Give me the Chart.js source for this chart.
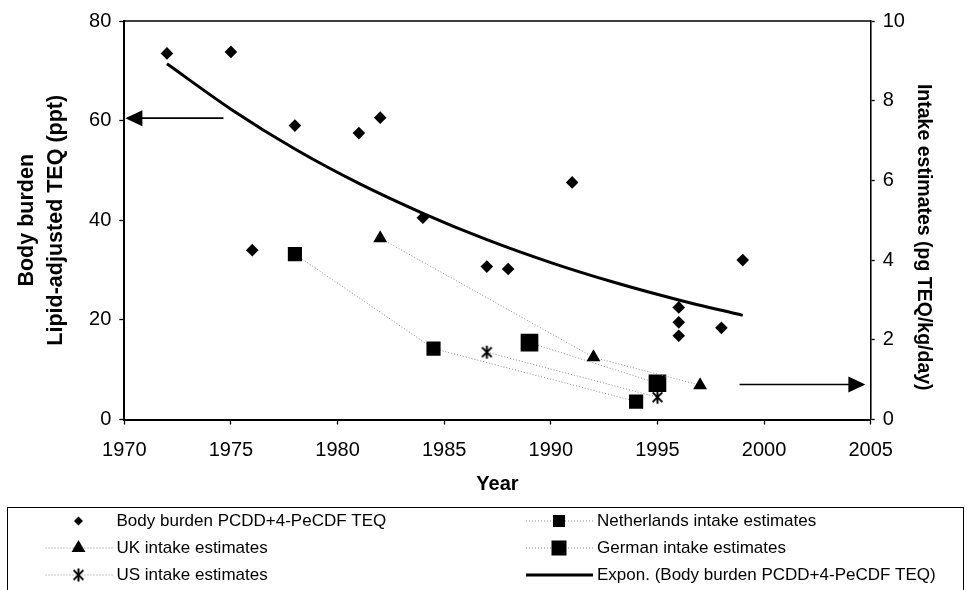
<!DOCTYPE html>
<html>
<head>
<meta charset="utf-8">
<script src="https://cdn.jsdelivr.net/npm/chart.js@4.4.1/dist/chart.umd.min.js"></script>
<style>
  html, body { margin: 0; padding: 0; background: #fff; }
</style>
</head>
<body>
<canvas id="chart" width="967" height="590"></canvas>
<script>
// body burden measurements (left axis, ppt)
const bodyYears = [1972, 1975, 1976, 1978, 1981, 1982, 1984, 1987, 1988, 1991, 1996, 1996, 1996, 1998, 1999];
const bodyValues = [73.5, 73.8, 34.0, 59.0, 57.5, 60.6, 40.5, 30.7, 30.2, 47.6, 22.5, 19.5, 16.8, 18.4, 32.0];

// exponential trend line
const trendYears = [1972, 1975, 1978, 1981, 1984, 1987, 1990, 1993, 1996, 1999];
const trendValues = [71.4, 62.3, 54.3, 47.4, 41.4, 36.1, 31.5, 27.5, 24.0, 20.9];

// intake estimates (right axis, pg TEQ/kg/day)
const nlYears = [1978, 1984.5, 1994];
const nlValues = [4.15, 1.78, 0.45];
const ukYears = [1982, 1992, 1997];
const ukValues = [4.55, 1.56, 0.86];
const usYears = [1987, 1995];
const usValues = [1.69, 0.56];
const deYears = [1989, 1995];
const deValues = [1.93, 0.91];

// arrows pointing at the axis each group belongs to
const leftArrowX = [1974.65, 1970.05];
const leftArrowY = 60.5;
const rightArrowX = [1998.85, 2004.75];
const rightArrowY = 0.88;

const rightTitle = 'Intake estimates (pg TEQ/kg/day)';

const FONT = "'Liberation Sans', Arial, sans-serif";

function pts(xs, ys) {
    return xs.map((x, i) => ({ x: x, y: ys[i] }));
}

function asterisk(size) {
    const c = document.createElement('canvas');
    c.width = size;
    c.height = size;
    const g = c.getContext('2d');
    const m = size / 2, r = size / 2 - 1;
    g.strokeStyle = '#000';
    g.lineWidth = 2;
    g.beginPath();
    g.moveTo(m, m - r); g.lineTo(m, m + r);
    g.moveTo(m - r * 0.75, m - r * 0.75); g.lineTo(m + r * 0.75, m + r * 0.75);
    g.moveTo(m - r * 0.75, m + r * 0.75); g.lineTo(m + r * 0.75, m - r * 0.75);
    g.stroke();
    return c;
}

const dotted = { showLine: true, borderColor: '#8a8a8a', borderWidth: 1, borderDash: [1, 2] };

const datasets = [
    {
        label: 'Expon. (Body burden PCDD+4-PeCDF TEQ)',
        data: pts(trendYears, trendValues),
        yAxisID: 'y',
        showLine: true,
        borderColor: '#000',
        borderWidth: 3,
        pointRadius: 0,
        cubicInterpolationMode: 'monotone'
    },
    {
        label: 'Body burden PCDD+4-PeCDF TEQ',
        data: pts(bodyYears, bodyValues),
        yAxisID: 'y',
        showLine: false,
        pointStyle: 'rectRot',
        pointRadius: 6.3,
        backgroundColor: '#000',
        borderColor: '#000',
        borderWidth: 0
    },
    Object.assign({
        label: 'Netherlands intake estimates',
        data: pts(nlYears, nlValues),
        yAxisID: 'y2',
        pointStyle: 'rect',
        pointRadius: 10,
        pointBackgroundColor: '#000',
        pointBorderWidth: 0
    }, dotted),
    Object.assign({
        label: 'UK intake estimates',
        data: pts(ukYears, ukValues),
        yAxisID: 'y2',
        pointStyle: 'triangle',
        pointRadius: 8,
        pointBackgroundColor: '#000',
        pointBorderWidth: 0
    }, dotted),
    Object.assign({
        label: 'German intake estimates',
        data: pts(deYears, deValues),
        yAxisID: 'y2',
        pointStyle: 'rect',
        pointRadius: 12.5,
        pointBackgroundColor: '#000',
        pointBorderWidth: 0
    }, dotted),
    Object.assign({
        label: 'US intake estimates',
        data: pts(usYears, usValues),
        yAxisID: 'y2',
        pointStyle: asterisk(15),
        pointRadius: 7
    }, dotted)
];

function drawArrow(ctx, x1, y1, x2, y2) {
    const dir = Math.sign(x2 - x1);
    ctx.save();
    ctx.strokeStyle = '#000';
    ctx.fillStyle = '#000';
    ctx.lineWidth = 1.6;
    ctx.beginPath();
    ctx.moveTo(x1, y1);
    ctx.lineTo(x2 - dir * 14, y2);
    ctx.stroke();
    ctx.beginPath();
    ctx.moveTo(x2, y2);
    ctx.lineTo(x2 - dir * 17, y2 - 8);
    ctx.lineTo(x2 - dir * 17, y2 + 8);
    ctx.closePath();
    ctx.fill();
    ctx.restore();
}

const extras = {
    id: 'extras',
    afterDraw(chart) {
        const ctx = chart.ctx;
        const a = chart.chartArea;
        const sx = chart.scales.x, sy = chart.scales.y, sy2 = chart.scales.y2;

        // top border of the plot
        ctx.save();
        ctx.strokeStyle = '#000';
        ctx.lineWidth = 1.3;
        ctx.beginPath();
        ctx.moveTo(a.left, a.top);
        ctx.lineTo(a.right, a.top);
        ctx.stroke();
        ctx.restore();

        // right axis title, sits a little below the axis middle in the original
        ctx.save();
        ctx.translate(sy2.right - 44, (a.top + a.bottom) / 2 + 17);
        ctx.rotate(Math.PI / 2);
        ctx.font = 'bold 19.5px ' + FONT;
        ctx.fillStyle = '#000';
        ctx.textAlign = 'center';
        ctx.textBaseline = 'middle';
        ctx.fillText(rightTitle, 0, 0);
        ctx.restore();

        drawArrow(ctx, sx.getPixelForValue(leftArrowX[0]), sy.getPixelForValue(leftArrowY),
            sx.getPixelForValue(leftArrowX[1]), sy.getPixelForValue(leftArrowY));
        drawArrow(ctx, sx.getPixelForValue(rightArrowX[0]), sy2.getPixelForValue(rightArrowY),
            sx.getPixelForValue(rightArrowX[1]), sy2.getPixelForValue(rightArrowY));

        // boxed legend, two columns
        ctx.save();
        ctx.strokeStyle = '#000';
        ctx.lineWidth = 1;
        ctx.strokeRect(7.5, 507.5, 956, 100);

        const order = [
            [1, 0, 0], [3, 0, 1], [5, 0, 2],
            [2, 1, 0], [4, 1, 1], [0, 1, 2]
        ];
        const colX = [78.5, 559];
        const rowY = [521, 548, 575];
        ctx.font = '17px ' + FONT;
        ctx.textBaseline = 'middle';
        ctx.textAlign = 'left';
        order.forEach(([di, col, row]) => {
            const ds = chart.data.datasets[di];
            const cx = colX[col], cy = rowY[row];
            if (ds.showLine) {
                ctx.save();
                ctx.strokeStyle = ds.borderColor;
                ctx.lineWidth = ds.borderWidth;
                ctx.setLineDash(ds.borderDash || []);
                ctx.beginPath();
                ctx.moveTo(cx - 33, cy);
                ctx.lineTo(cx + 34, cy);
                ctx.stroke();
                ctx.restore();
            }
            if (ds.pointStyle) {
                ctx.save();
                ctx.fillStyle = '#000';
                ctx.strokeStyle = '#000';
                let r = ds.pointRadius;
                if (ds.pointStyle === 'rectRot') r = 4.5;
                if (ds.pointStyle === 'rect') r = r * 0.85;
                Chart.helpers.drawPoint(ctx, { pointStyle: ds.pointStyle, radius: r, rotation: 0, borderWidth: 0 }, cx, cy);
                ctx.restore();
            }
            ctx.fillStyle = '#000';
            ctx.fillText(ds.label, cx + 38, cy);
        });
        ctx.restore();
    }
};

new Chart(document.getElementById('chart').getContext('2d'), {
    type: 'scatter',
    data: { datasets: datasets },
    plugins: [extras],
    options: {
        responsive: false,
        animation: false,
        layout: { padding: { top: 21, bottom: 90.5, left: 0, right: 0 } },
        plugins: {
            legend: { display: false },
            tooltip: { enabled: false }
        },
        scales: {
            x: {
                type: 'linear',
                position: 'bottom',
                min: 1970,
                max: 2005,
                ticks: {
                    stepSize: 5,
                    callback: v => String(v),
                    color: '#000',
                    font: { family: FONT, size: 20 },
                    padding: 14,
                    maxRotation: 0
                },
                grid: { drawOnChartArea: false, tickLength: 5, color: '#000', tickWidth: 1.3 },
                border: { color: '#000', width: 2 },
                title: {
                    display: true,
                    text: 'Year',
                    color: '#000',
                    font: { family: FONT, size: 20, weight: 'bold' },
                    padding: { top: 0, bottom: 3.5 }
                },
                afterFit(scale) { scale.height = 80; }
            },
            y: {
                position: 'left',
                min: 0,
                max: 80,
                ticks: {
                    stepSize: 20,
                    color: '#000',
                    font: { family: FONT, size: 20 },
                    padding: 8
                },
                grid: { drawOnChartArea: false, tickLength: 5, color: '#000', tickWidth: 1.3 },
                border: { color: '#000', width: 2 },
                title: {
                    display: true,
                    text: ['Body burden', 'Lipid-adjusted TEQ (ppt)'],
                    color: '#000',
                    font: { family: FONT, size: 21.5, weight: 'bold', lineHeight: 1.38 },
                    padding: { top: 12, bottom: 0 }
                },
                afterFit(scale) { scale.width = 124.3; }
            },
            y2: {
                position: 'right',
                min: 0,
                max: 10,
                ticks: {
                    stepSize: 2,
                    color: '#000',
                    font: { family: FONT, size: 20 },
                    padding: 8
                },
                grid: { drawOnChartArea: false, tickLength: 4, color: '#000', tickWidth: 1.3 },
                border: { color: '#000', width: 1.6 },
                afterFit(scale) { scale.width = 96.3; }
            }
        }
    }
});
</script>
</body>
</html>
